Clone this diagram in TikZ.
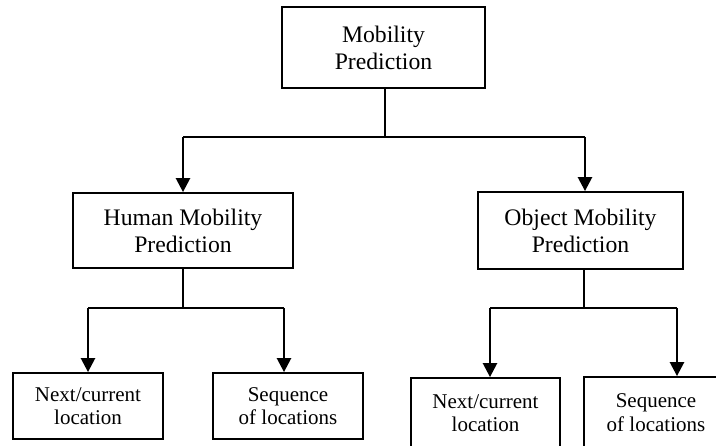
\documentclass[tikz,border=0pt]{standalone}
\usepackage{fontspec}
\setmainfont{Liberation Serif}
\usetikzlibrary{arrows.meta}
\begin{document}
\begin{tikzpicture}[x=1pt, y=-1pt,
  box/.style={draw, line width=1.8pt, align=center, inner sep=0pt},
  big/.style={font=\fontsize{23.7}{27}\selectfont},
  small/.style={font=\fontsize{21}{23.5}\selectfont},
  link/.style={line width=1.5pt},
  arr/.style={line width=2.5pt, -{Triangle[width=14pt,length=14pt]}}]
\clip (0,0) rectangle (716,446);
\node[box, big, minimum width=203pt, minimum height=81pt] (P_0_0) at (383.5,47.5) {Mobility\\Prediction};
\coordinate (J_0) at (385,137);
\coordinate (J_1) at (183,137);
\coordinate (J_2) at (585,137);
\node[box, big, minimum width=220pt, minimum height=75pt] (P_1_0) at (183,230.5) {Human Mobility\\Prediction};
\node[box, big, minimum width=205pt, minimum height=77pt] (P_1_1) at (580.5,230.5) {Object Mobility\\Prediction};
\draw[link] (P_0_0.south -| J_0) -- (J_0);
\draw[link] (J_1) -- (J_2);
\draw[arr] (J_1) -- (P_1_0);
\draw[arr] (J_2) -- (P_1_1.north -| J_2);
\coordinate (J_3) at (183,308);
\coordinate (J_4) at (88,308);
\coordinate (J_5) at (284,308);
\node[box, small, minimum width=150pt, minimum height=66pt] (P_2_0) at (88,406) {Next/current\\location};
\node[box, small, minimum width=150pt, minimum height=66pt] (P_2_1) at (288,406) {Sequence\\of locations};
\draw[link] (P_1_0) -- (J_3);
\draw[link] (J_4) -- (J_5);
\draw[arr] (J_4) -- (P_2_0);
\draw[arr] (J_5) -- (P_2_1.north -| J_5);
\coordinate (J_6) at (584,308);
\coordinate (J_7) at (490,308);
\coordinate (J_8) at (677,308);
\node[box, small, minimum width=149pt, minimum height=70pt] (P_2_2) at (485.5,413) {Next/current\\location};
\node[box, small, minimum width=144pt, minimum height=71pt] (P_2_3) at (656,412.5) {Sequence\\of locations};
\draw[link] (P_1_1.south -| J_6) -- (J_6);
\draw[link] (J_7) -- (J_8);
\draw[arr] (J_7) -- (P_2_2.north -| J_7);
\draw[arr] (J_8) -- (P_2_3.north -| J_8);
\end{tikzpicture}
\end{document}
